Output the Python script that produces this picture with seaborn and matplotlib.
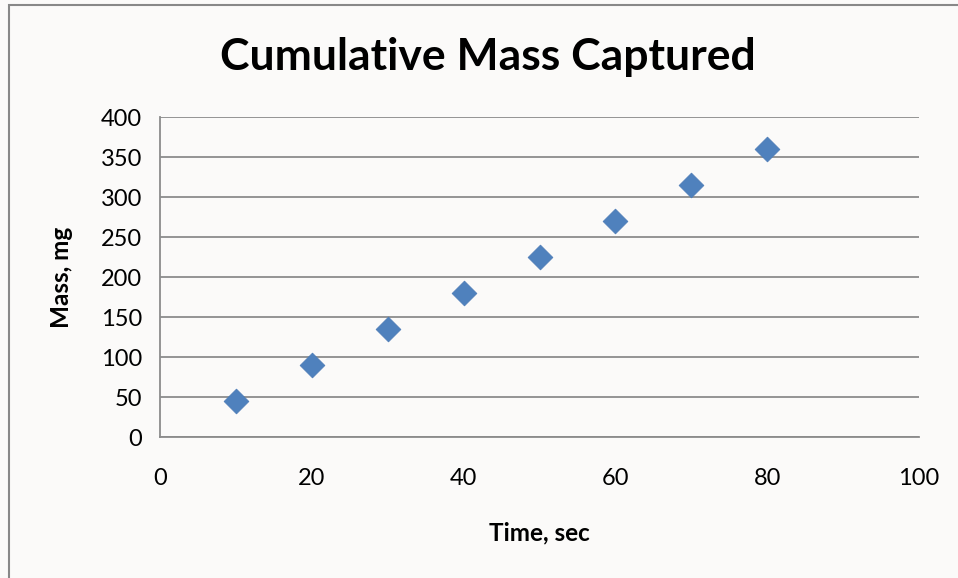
import matplotlib
matplotlib.use("Agg")
import matplotlib.pyplot as plt
import seaborn as sns
import pandas as pd
from matplotlib.patches import Rectangle

time_sec = [10, 20, 30, 40, 50, 60, 70, 80]
mass_mg = [45, 90, 135, 180, 225, 270, 315, 360]
x_ticks = [0, 20, 40, 60, 80, 100]
y_ticks = [0, 50, 100, 150, 200, 250, 300, 350, 400]

sns.set_theme(style="white")
plt.rcParams['font.family'] = ['Lato', 'DejaVu Sans']
plt.rcParams['text.color'] = 'black'
plt.rcParams['axes.labelcolor'] = 'black'

W, H = 958, 578
bg = "#fbfaf9"
fig = plt.figure(figsize=(W / 100, H / 100), dpi=100, facecolor=bg)
ax = fig.add_axes([160 / W, 1 - 437 / H, (919 - 160) / W, (437 - 117) / H])
ax.set_facecolor(bg)

df = pd.DataFrame({"Time": time_sec, "Mass": mass_mg})
sns.scatterplot(data=df, x="Time", y="Mass", ax=ax, marker="D", s=160,
                color="#4f81bd", edgecolor="#4a7ab5", linewidth=0.5, zorder=3)

ax.set_xlim(0, 100)
ax.set_ylim(0, 400)
ax.set_xticks(x_ticks)
ax.set_yticks(y_ticks)
ax.yaxis.grid(True, color="#8c8c8c", linewidth=1.3)
ax.xaxis.grid(False)
for s in ["top", "right"]:
    ax.spines[s].set_visible(False)
for s in ["left", "bottom"]:
    ax.spines[s].set_color("#8c8c8c")
    ax.spines[s].set_linewidth(1.3)
ax.tick_params(axis="both", which="both", direction="out", length=8, width=1.3,
               color="#8c8c8c", labelsize=17, labelcolor="black")
ax.tick_params(axis="y", pad=5)
ax.tick_params(axis="x", pad=14)
ax.set_xlabel("Time, sec", fontsize=17.5, fontweight="bold", labelpad=24, color="black")
ax.set_ylabel("Mass, mg", fontsize=17.5, fontweight="bold", labelpad=20, color="black")
fig.text(488 / W, 1 - 57 / H, "Cumulative Mass Captured", fontsize=32,
         fontweight="bold", ha="center", va="center", color="black")

fig.patches.append(Rectangle((8.5 / W, -0.1), 1.2, 1 - 5.5 / H + 0.1,
                             transform=fig.transFigure, fill=False,
                             edgecolor="#888888", linewidth=1.5))

fig.savefig("out.png", dpi=100, facecolor=bg)
